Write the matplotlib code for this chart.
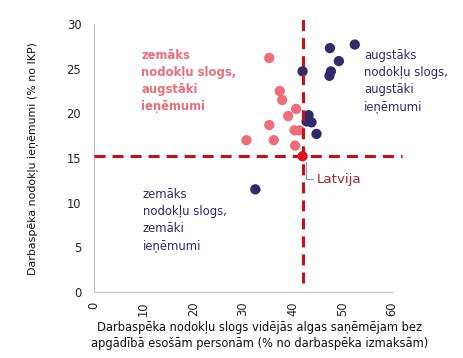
import matplotlib
matplotlib.use("Agg")
import matplotlib.pyplot as plt

# Data
navy_x = [47.5, 52.5, 49.3, 47.7, 47.4, 42.0, 43.2, 42.8, 43.8, 44.8, 32.5]
navy_y = [27.3, 27.7, 25.85, 24.7, 24.2, 24.7, 19.8, 19.1, 19.0, 17.7, 11.5]
pink_x = [35.3, 37.4, 37.9, 40.7, 39.1, 35.3, 40.4, 41.4, 30.7, 36.2, 40.5]
pink_y = [26.2, 22.5, 21.5, 20.5, 19.7, 18.7, 18.1, 18.1, 17.0, 17.0, 16.4]
lv_x, lv_y = 42.0, 15.2
x_ticks = [0, 10, 20, 30, 40, 50, 60]
y_ticks = [0, 5, 10, 15, 20, 25, 30]

NAVY = "#2E2B6E"
PINK = "#EE6D79"
DRED = "#C80F17"

plt.rcParams['font.family'] = ['DejaVu Sans']
fig = plt.figure(figsize=(4.64, 3.58), dpi=100)
ax = fig.add_axes([0.202, 0.184, 0.643, 0.749])
ax.set_xlim(0, 60)
ax.set_ylim(0, 30)

ax.scatter(pink_x, pink_y, s=55, color=PINK, edgecolors='none', zorder=3)
ax.scatter(navy_x, navy_y, s=55, color=NAVY, edgecolors='none', zorder=4)

dash = (3.6, 2.3)
ax.plot([0.1, 62], [lv_y, lv_y], color=DRED, lw=2.2, dashes=dash, clip_on=False, zorder=5)
ax.plot([lv_x, lv_x], [1.0, 30.7], color=DRED, lw=2.2, dashes=dash, clip_on=False, zorder=5)
ax.scatter([lv_x], [lv_y], s=55, color="#E8101A", edgecolors='none', zorder=6)

ax.annotate("Latvija", xy=(42.6, 14.6), xytext=(44.9, 12.65),
            color="#A0282E", fontsize=9.6, va='center', ha='left',
            arrowprops=dict(arrowstyle='-', color='#8899AA', lw=0.8,
                            connectionstyle="angle,angleA=0,angleB=90,rad=0",
                            shrinkA=1, shrinkB=0), zorder=7)

qfs = 8.4
ax.text(9.6, 27.2, "zemāks\nnodokļu slogs,\naugstāki\nieņēmumi", color=PINK,
        fontsize=qfs, fontweight='bold', va='top', ha='left', linespacing=1.4)
ax.text(54.4, 27.2, "augstāks\nnodokļu slogs,\naugstāki\nieņēmumi", color=NAVY,
        fontsize=qfs, va='top', ha='left', linespacing=1.4, clip_on=False)
ax.text(9.9, 11.6, "zemāks\nnodokļu slogs,\nzemāki\nieņēmumi", color=NAVY,
        fontsize=qfs, va='top', ha='left', linespacing=1.4)

ax.set_xticks(x_ticks)
ax.set_yticks(y_ticks)
ax.set_xticklabels([str(t) for t in x_ticks], rotation=90, fontsize=8.3, color='#222222')
ax.set_yticklabels([str(t) for t in y_ticks], fontsize=8.3, color='#222222')
ax.tick_params(axis='x', length=0, pad=7)
ax.tick_params(axis='y', length=0, pad=9)
for s in ['top', 'right']:
    ax.spines[s].set_visible(False)
for s in ['left', 'bottom']:
    ax.spines[s].set_color('#BBBBBB')
    ax.spines[s].set_linewidth(0.8)

fig.text(0.07, 0.558, "Darbaspēka nodokļu ieņēmumi (% no IKP)", rotation=90,
         ha='center', va='center', fontsize=7.9, color='#111111')
fig.text(0.56, 0.063, "Darbaspēka nodokļu slogs vidējās algas saņēmējam bez\napgādībā esošām personām (% no darbaspēka izmaksām)",
         ha='center', va='center', fontsize=8.3, color='#111111', linespacing=1.3)

fig.savefig("out.png", dpi=100)
